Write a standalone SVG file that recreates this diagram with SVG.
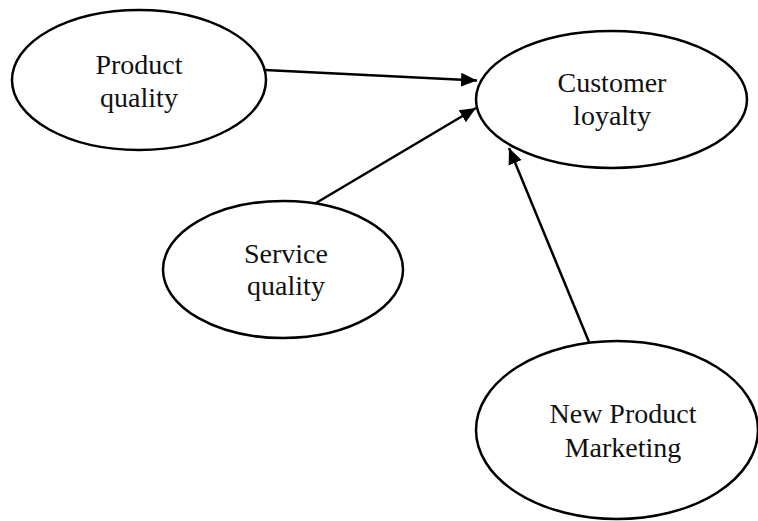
<svg xmlns="http://www.w3.org/2000/svg" width="758" height="521" viewBox="0 0 758 521">
<style>
.node{fill:#fff;stroke:#000;stroke-width:2.5}
.lbl{font-family:"Liberation Serif","DejaVu Serif",serif;font-size:28px;fill:#111;text-anchor:middle}
.edge{stroke:#000;stroke-width:2.5;fill:none;marker-end:url(#arr)}
</style>
<defs>
<marker id="arr" markerUnits="userSpaceOnUse" markerWidth="16" markerHeight="16" viewBox="0 0 16 16" refX="16" refY="8" orient="auto">
<path d="M0,1 L16,8 L0,15 Z" fill="#000"/>
</marker>
</defs>
<rect width="758" height="521" fill="#fff"/>
<g id="product-quality">
<ellipse class="node" cx="139" cy="80" rx="127" ry="70"/>
<text class="lbl" x="139" y="74">Product</text>
<text class="lbl" x="139" y="107">quality</text>
</g>
<g id="customer-loyalty">
<ellipse class="node" cx="611.5" cy="99.5" rx="135.5" ry="68.5"/>
<text class="lbl" x="612" y="92">Customer</text>
<text class="lbl" x="612" y="125">loyalty</text>
</g>
<g id="service-quality">
<ellipse class="node" cx="283" cy="269.5" rx="120" ry="68.5"/>
<text class="lbl" x="286" y="263">Service</text>
<text class="lbl" x="286" y="295">quality</text>
</g>
<g id="new-product-marketing">
<ellipse class="node" cx="617" cy="430" rx="141" ry="89"/>
<text class="lbl" x="623" y="423">New Product</text>
<text class="lbl" x="623" y="457">Marketing</text>
</g>
<g id="connectors">
<line class="edge" x1="265" y1="70" x2="477" y2="80.5"/>
<line class="edge" x1="316" y1="203" x2="476" y2="108"/>
<line class="edge" x1="589" y1="342" x2="509" y2="148"/>
</g>
</svg>
